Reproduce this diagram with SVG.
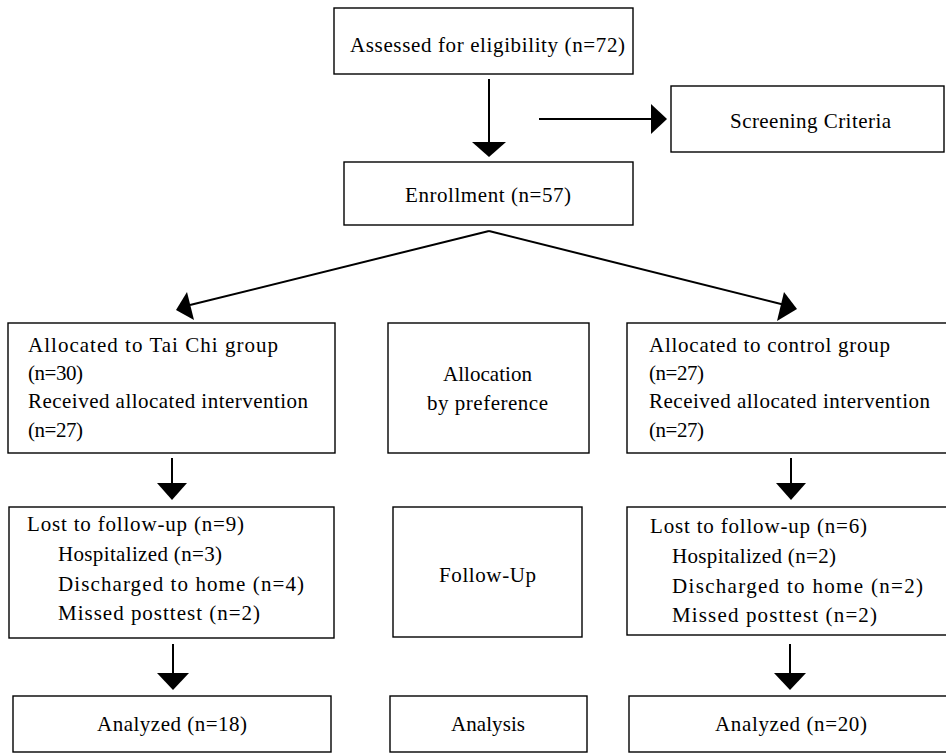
<svg xmlns="http://www.w3.org/2000/svg" width="946" height="754" viewBox="0 0 946 754">
<defs>
<style>
.box{fill:#fff;stroke:#000;stroke-width:1.4}
.t{font-family:"Liberation Serif","Times New Roman",serif;font-size:21px;fill:#000}
.ln{stroke:#000;stroke-width:2;fill:none}
.hd{fill:#000;stroke:none}
</style>
</defs>
<rect width="946" height="754" fill="#fff"/>
<g id="connectors">
<line class="ln" x1="489" y1="79" x2="489" y2="144"/>
<polygon class="hd" points="472,142 506,142 489,157"/>
<line class="ln" x1="539" y1="119" x2="653" y2="119"/>
<polygon class="hd" points="651,104 651,134 667,119"/>
<line class="ln" x1="489" y1="231" x2="190" y2="305"/>
<polygon class="hd" points="187,292 176,310 194,320"/>
<line class="ln" x1="489" y1="231" x2="785" y2="305"/>
<polygon class="hd" points="784,292 797,309 777,321"/>
<line class="ln" x1="172" y1="458" x2="172" y2="485"/>
<polygon class="hd" points="157,483 187,483 172,500"/>
<line class="ln" x1="791" y1="458" x2="791" y2="485"/>
<polygon class="hd" points="776,483 806,483 791,500"/>
<line class="ln" x1="173" y1="644" x2="173" y2="675"/>
<polygon class="hd" points="157,673 189,673 173,690"/>
<line class="ln" x1="790" y1="644" x2="790" y2="675"/>
<polygon class="hd" points="774,673 806,673 790,690"/>
</g>
<g id="assessed">
<rect class="box" x="334" y="8" width="299" height="66"/>
<text class="t" x="350" y="52" textLength="275" lengthAdjust="spacing">Assessed for eligibility (n=72)</text>
</g>
<g id="screening">
<rect class="box" x="671" y="86" width="273" height="66"/>
<text class="t" x="730" y="128" textLength="161" lengthAdjust="spacing">Screening Criteria</text>
</g>
<g id="enrollment">
<rect class="box" x="344" y="162" width="289" height="63"/>
<text class="t" x="405" y="202" textLength="166" lengthAdjust="spacing">Enrollment (n=57)</text>
</g>
<g id="alloc-taichi">
<rect class="box" x="8" y="323" width="327" height="130"/>
<text class="t" x="28" y="352" textLength="250" lengthAdjust="spacing">Allocated to Tai Chi group</text>
<text class="t" x="28" y="380" textLength="55" lengthAdjust="spacing">(n=30)</text>
<text class="t" x="28" y="408" textLength="280" lengthAdjust="spacing">Received allocated intervention</text>
<text class="t" x="28" y="437" textLength="55" lengthAdjust="spacing">(n=27)</text>
</g>
<g id="alloc-pref">
<rect class="box" x="388" y="323" width="201" height="130"/>
<text class="t" x="443" y="381" textLength="89" lengthAdjust="spacing">Allocation</text>
<text class="t" x="427" y="410" textLength="121" lengthAdjust="spacing">by preference</text>
</g>
<g id="alloc-control">
<rect class="box" x="627" y="323" width="330" height="130"/>
<text class="t" x="649" y="352" textLength="241" lengthAdjust="spacing">Allocated to control group</text>
<text class="t" x="649" y="380" textLength="55" lengthAdjust="spacing">(n=27)</text>
<text class="t" x="649" y="408" textLength="281" lengthAdjust="spacing">Received allocated intervention</text>
<text class="t" x="649" y="437" textLength="55" lengthAdjust="spacing">(n=27)</text>
</g>
<g id="lost-taichi">
<rect class="box" x="9" y="507" width="325" height="131"/>
<text class="t" x="27" y="531" textLength="217" lengthAdjust="spacing">Lost to follow-up (n=9)</text>
<text class="t" x="58" y="561" textLength="164" lengthAdjust="spacing">Hospitalized (n=3)</text>
<text class="t" x="58" y="591" textLength="246" lengthAdjust="spacing">Discharged to home (n=4)</text>
<text class="t" x="58" y="620" textLength="202" lengthAdjust="spacing">Missed posttest (n=2)</text>
</g>
<g id="followup">
<rect class="box" x="393" y="507" width="189" height="130"/>
<text class="t" x="439" y="582" textLength="97" lengthAdjust="spacing">Follow-Up</text>
</g>
<g id="lost-control">
<rect class="box" x="627" y="507" width="330" height="128"/>
<text class="t" x="650" y="533" textLength="217" lengthAdjust="spacing">Lost to follow-up (n=6)</text>
<text class="t" x="672" y="563" textLength="164" lengthAdjust="spacing">Hospitalized (n=2)</text>
<text class="t" x="672" y="593" textLength="251" lengthAdjust="spacing">Discharged to home (n=2)</text>
<text class="t" x="672" y="622" textLength="205" lengthAdjust="spacing">Missed posttest (n=2)</text>
</g>
<g id="analyzed-taichi">
<rect class="box" x="13" y="696" width="318" height="56"/>
<text class="t" x="97" y="731" textLength="150" lengthAdjust="spacing">Analyzed (n=18)</text>
</g>
<g id="analysis">
<rect class="box" x="390" y="696" width="197" height="56"/>
<text class="t" x="451" y="731" textLength="74" lengthAdjust="spacing">Analysis</text>
</g>
<g id="analyzed-control">
<rect class="box" x="629" y="696" width="328" height="56"/>
<text class="t" x="715" y="731" textLength="152" lengthAdjust="spacing">Analyzed (n=20)</text>
</g>
</svg>
